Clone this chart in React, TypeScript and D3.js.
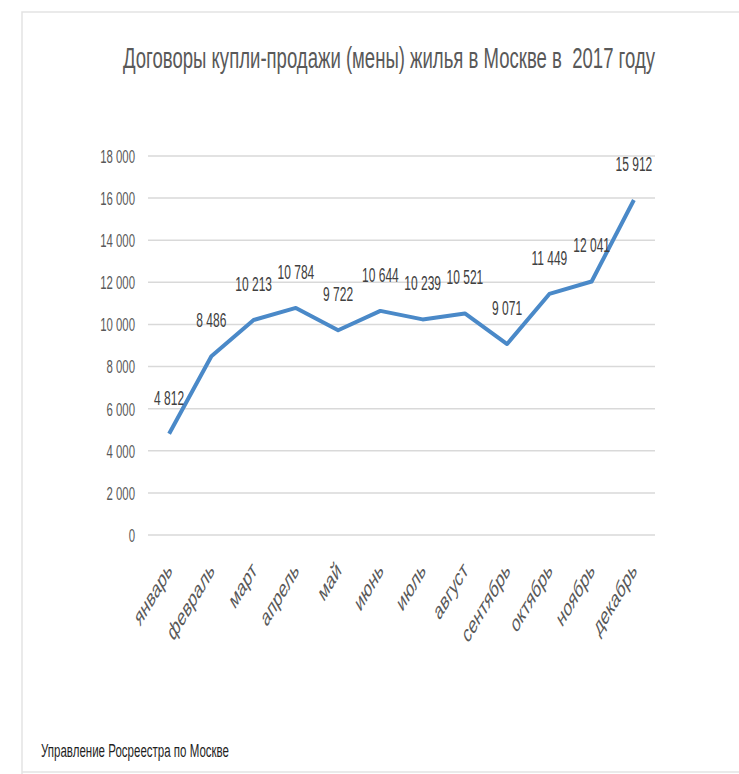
import React from "react";
import * as d3 from "d3";

const months = ["январь","февраль","март","апрель","май","июнь","июль","август","сентябрь","октябрь","ноябрь","декабрь"];
const values = [4812, 8486, 10213, 10784, 9722, 10644, 10239, 10521, 9071, 11449, 12041, 15912];
const yTicks = [0, 2000, 4000, 6000, 8000, 10000, 12000, 14000, 16000, 18000];
const title = "Договоры купли-продажи (мены) жилья в Москве в\u00a0 2017 году";
const source = "Управление Росреестра по Москве";

const W = 739, H = 774;
const FONT = "'Liberation Sans', Arial, sans-serif";
const SX = 0.6;
const TS = 0.65;
const fmt = (v: number) => d3.format(",")(v).replace(/,/g, "\u00a0");

export default function App() {
  const x = d3.scaleBand<string>().domain(months).range([148, 655]);
  const y = d3.scaleLinear().domain([0, 18000]).range([535, 156]);
  const cx = (m: string) => (x(m) as number) + x.bandwidth() / 2;
  const line = d3.line<number>().x((_, i) => cx(months[i])).y(d => y(d));
  return (
    <svg width={W} height={H} style={{ position: "absolute", left: 0, top: 0, background: "#fff" }} fontFamily={FONT}>
      <rect x={0} y={0} width={W} height={H} fill="#fff" />
      <path d={`M22,${H} L22,12 L${W},12`} fill="none" stroke="#e3e3e3" strokeWidth={1.5} />
      <line x1={22} x2={W} y1={772} y2={772} stroke="#e3e3e3" strokeWidth={1.5} />
      <text transform={`translate(123,68) scale(${TS},1)`} fontSize={30} fill="#595959" textLength={532 / TS} lengthAdjust="spacingAndGlyphs">{title}</text>
      {yTicks.map(t => (
        <g key={t}>
          <line x1={148} x2={655} y1={y(t)} y2={y(t)} stroke="#d9d9d9" strokeWidth={1.5} />
          <text transform={`translate(135,${y(t)}) scale(${SX},1)`} dy="0.36em" textAnchor="end" fontSize={19} fill="#595959">{fmt(t)}</text>
        </g>
      ))}
      {months.map(m => (
        <text key={m} transform={`translate(${cx(m) + 4},572) scale(${SX},1) rotate(-45)`} textAnchor="end" fontSize={24} fill="#595959">{m}</text>
      ))}
      <path d={line(values) as string} fill="none" stroke="#4a89c8" strokeWidth={4} strokeLinejoin="round" />
      {values.map((v, i) => (
        <text key={i} transform={`translate(${cx(months[i])},${y(v) - 29}) scale(${SX},1)`} textAnchor="middle" fontSize={20} fill="#404040">{fmt(v)}</text>
      ))}
      <text transform={`translate(41,757) scale(${TS},1)`} fontSize={19} fill="#1f1f1f" textLength={188 / TS} lengthAdjust="spacingAndGlyphs">{source}</text>
    </svg>
  );
}
